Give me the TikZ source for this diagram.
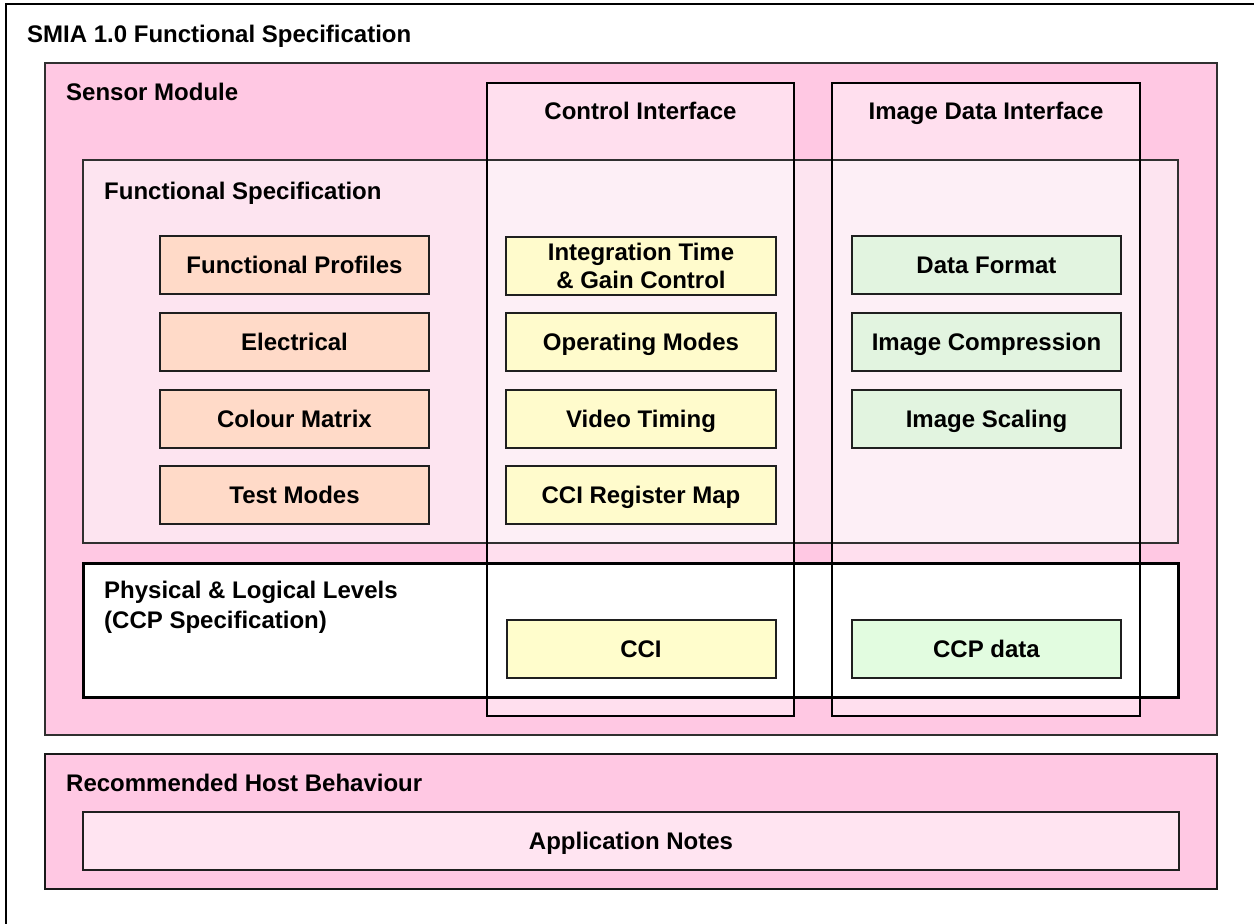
\documentclass[tikz,border=0pt]{standalone}
\usepackage{fontspec}
\setmainfont{Liberation Sans}
\definecolor{modpink}{HTML}{FFC8E3}
\definecolor{specpink}{HTML}{FDE4F0}
\definecolor{notepink}{HTML}{FFE4F1}
\definecolor{peach}{HTML}{FFDAC8}
\definecolor{cream}{HTML}{FFFBCC}
\definecolor{creamb}{HTML}{FFFDCC}
\definecolor{mint}{HTML}{E2F4E0}
\definecolor{mintb}{HTML}{E2FCE0}
\definecolor{edge}{HTML}{303030}
\begin{document}
\begin{tikzpicture}[x=1pt,y=-1pt,
  txt/.style={font=\fontsize{24}{28}\selectfont\bfseries, inner sep=0pt},
  blockbox/.style={txt, draw=black!88, line width=2pt, minimum width=269pt,
    minimum height=58pt, text height=17.2pt, text depth=0pt},
  twoline/.style={txt, draw=black!88, line width=2pt, minimum width=269pt,
    minimum height=58pt, align=center},
  container/.style={draw=edge, line width=1.5pt},
  column/.style={draw=black, line width=2pt},
]
\useasboundingbox (0,0) rectangle (1254,924);
\clip (0,0) rectangle (1254,924);

% outer document frame
\draw[line width=1.5pt] (6,4) rectangle (1272,944);
\node[txt, anchor=base west] (title) at (27,42) {SMIA 1.0 Functional Specification};

% container fills
\fill[modpink] (45,63) rectangle (1217,735);
\fill[specpink] (83,160) rectangle (1178,543);
\fill[white] (83,563) rectangle (1178,697);
\fill[white, fill opacity=0.42] (487,83) rectangle (794,716);
\fill[white, fill opacity=0.42] (832,83) rectangle (1140,716);

% container borders
\draw[container] (45,63) rectangle (1217,735);
\draw[container] (83,160) rectangle (1178,543);
\draw[line width=3pt] (83,563) rectangle (1178,697);
\draw[column] (487,83) rectangle (794,716);
\draw[column] (832,83) rectangle (1140,716);

% container titles
\node[txt, anchor=base west] (sm) at (66,100) {Sensor Module};
\node[txt, anchor=base west] (fs) at (104,199) {Functional Specification};
\node[txt, anchor=base] (ci) at (640.5,119) {Control Interface};
\node[txt, anchor=base] (idi) at (986,119) {Image Data Interface};
\node[txt, anchor=north west, align=left, font=\fontsize{24}{30}\selectfont\bfseries]
  (pl) at (104,580.8) {Physical \& Logical Levels\\(CCP Specification)};

% functional specification blocks
\node[blockbox, fill=peach] (fp) at (294.5,265) {Functional Profiles};
\node[blockbox, fill=peach] (el) at (294.5,342) {Electrical};
\node[blockbox, fill=peach] (cm) at (294.5,419) {Colour Matrix};
\node[blockbox, fill=peach] (tm) at (294.5,495) {Test Modes};

\node[twoline, fill=cream, minimum width=270pt] (itg) at (641,266) {Integration Time\\\& Gain Control};
\node[blockbox, fill=cream, minimum width=270pt] (om) at (641,342) {Operating Modes};
\node[blockbox, fill=cream, minimum width=270pt] (vt) at (641,419) {Video Timing};
\node[blockbox, fill=cream, minimum width=270pt] (crm) at (641,495) {CCI Register Map};

\node[blockbox, fill=mint] (df) at (986.5,265) {Data Format};
\node[blockbox, fill=mint] (ic) at (986.5,342) {Image Compression};
\node[blockbox, fill=mint] (is) at (986.5,419) {Image Scaling};

% physical layer blocks
\node[blockbox, fill=creamb] (cci) at (641,649) {CCI};
\node[blockbox, fill=mintb] (ccp) at (986.5,649) {CCP data};

% host side
\fill[modpink] (45,754) rectangle (1217,889);
\draw[line width=2pt, draw=black!90] (45,754) rectangle (1217,889);
\node[txt, anchor=base west] (rhb) at (66,791) {Recommended Host Behaviour};
\node[blockbox, fill=notepink, minimum width=1096pt] (an) at (631,841) {Application Notes};
\end{tikzpicture}
\end{document}
